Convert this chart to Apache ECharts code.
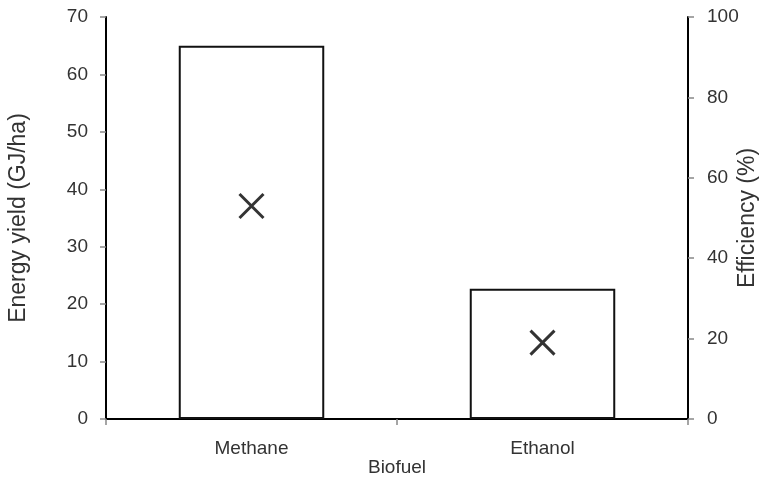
<!DOCTYPE html>
<html>
<head>
<meta charset="utf-8">
<script src="https://cdn.jsdelivr.net/npm/echarts@6/dist/echarts.min.js"></script>
<style>
  html, body { margin: 0; padding: 0; background: #fff; }
  #chart { width: 759px; height: 481px; }
</style>
</head>
<body>
<div id="chart"></div>
<script>
// Biofuel comparison: energy yield as bars (left axis), efficiency as crosses (right axis)
const categories = ['Methane', 'Ethanol'];
const energyYield = [65, 22.7];       // GJ/ha
const efficiency = [53, 19];          // %
const yieldTicks = { min: 0, max: 70, interval: 10 };
const effTicks = { min: 0, max: 100, interval: 20 };

const FONT = '"Liberation Sans", Arial, sans-serif';
const TEXT = '#333333';

const chart = echarts.init(document.getElementById('chart'), null, { renderer: 'canvas' });

chart.setOption({
  animation: false,
  backgroundColor: '#ffffff',
  grid: { left: 106, right: 71, top: 17, bottom: 62, containLabel: false, outerBoundsMode: 'none' },
  xAxis: {
    type: 'category',
    data: categories,
    boundaryGap: true,
    name: 'Biofuel',
    nameLocation: 'middle',
    nameGap: 39,
    nameMoveOverlap: false,
    nameTextStyle: { fontFamily: FONT, fontSize: 19, color: TEXT },
    axisLine: { lineStyle: { color: '#000', width: 2 } },
    axisTick: { show: true, length: 6, lineStyle: { color: '#888', width: 1.5 } },
    axisLabel: { fontFamily: FONT, fontSize: 19, color: TEXT, margin: 20 },
    splitLine: { show: false }
  },
  yAxis: [
    {
      type: 'value',
      min: yieldTicks.min, max: yieldTicks.max, interval: yieldTicks.interval,
      name: 'Energy yield (GJ/ha)',
      nameLocation: 'middle',
      nameGap: 76,
      nameMoveOverlap: false,
      nameTextStyle: { fontFamily: FONT, fontSize: 23, color: TEXT },
      axisLine: { show: true, lineStyle: { color: '#000', width: 2 } },
      axisTick: { show: true, length: 6, lineStyle: { color: '#888', width: 1.5 } },
      axisLabel: { fontFamily: FONT, fontSize: 19, color: TEXT, margin: 18 },
      splitLine: { show: false }
    },
    {
      type: 'value',
      position: 'right',
      min: effTicks.min, max: effTicks.max, interval: effTicks.interval,
      name: 'Efficiency (%)',
      nameLocation: 'middle',
      nameGap: 48,
      nameMoveOverlap: false,
      nameTextStyle: { fontFamily: FONT, fontSize: 23, color: TEXT },
      axisLine: { show: true, lineStyle: { color: '#000', width: 2 } },
      axisTick: { show: true, length: 6, lineStyle: { color: '#888', width: 1.5 } },
      axisLabel: { fontFamily: FONT, fontSize: 19, color: TEXT, margin: 19 },
      splitLine: { show: false }
    }
  ],
  series: [
    {
      name: 'Energy yield',
      type: 'bar',
      yAxisIndex: 0,
      data: energyYield,
      barWidth: '50%',
      itemStyle: { color: '#ffffff', borderColor: '#111', borderWidth: 2 },
      z: 2
    },
    {
      name: 'Efficiency',
      type: 'scatter',
      yAxisIndex: 1,
      data: efficiency,
      symbol: 'path://M0,0L10,10M10,0L0,10',
      symbolSize: 24,
      itemStyle: { color: 'transparent', borderColor: '#000', borderWidth: 3 },
      z: 3
    }
  ]
});
</script>
</body>
</html>
